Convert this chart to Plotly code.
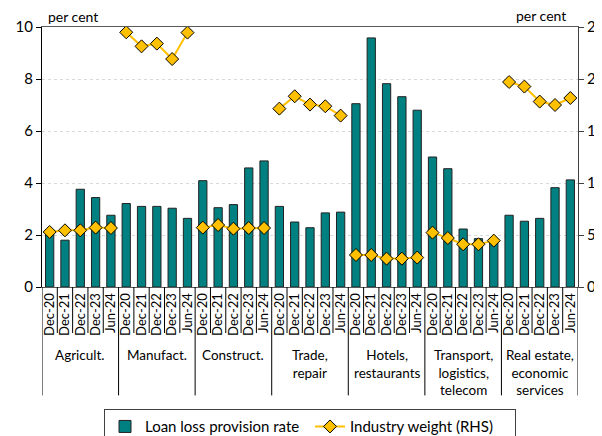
import plotly.graph_objects as go

# ---- data ----
sector_keys = ["Agricult.", "Manufact.", "Construct.", "Trade", "Hotels", "Transport", "Real estate"]
sector_labels = ["Agricult.", "Manufact.", "Construct.", "Trade,<br>repair",
                 "Hotels,<br>restaurants", "Transport,<br>logistics,<br>telecom",
                 "Real estate,<br>economic<br>services"]
dates = ["Dec-20", "Dec-21", "Dec-22", "Dec-23", "Jun-24"]

provision_rate = [
    2.12, 1.80, 3.76, 3.44, 2.76,   # Agricult.
    3.21, 3.10, 3.10, 3.03, 2.64,   # Manufact.
    4.09, 3.05, 3.17, 4.58, 4.85,   # Construct.
    3.10, 2.50, 2.28, 2.85, 2.88,   # Trade
    7.05, 9.58, 7.82, 7.32, 6.80,   # Hotels
    5.00, 4.55, 2.23, 1.86, 1.77,   # Transport
    2.76, 2.53, 2.64, 3.82, 4.12,   # Real estate
]
industry_weight = [
    5.29, 5.45, 5.45, 5.71, 5.67,
    24.49, 23.14, 23.40, 21.92, 24.46,
    5.71, 5.96, 5.61, 5.67, 5.67,
    17.15, 18.34, 17.54, 17.38, 16.48,
    3.08, 3.08, 2.73, 2.73, 2.83,
    5.23, 4.71, 4.11, 4.11, 4.46,
    19.71, 19.27, 17.83, 17.50, 18.17,
]

left_ticks = [0, 2, 4, 6, 8, 10]
right_ticks = [0, 5, 10, 15, 20, 25]

# ---- build ----
FONT = "Lato, 'Liberation Sans', sans-serif"
TEAL = "#008080"
GOLD = "#FFC000"

n_per = len(dates)
x_ids = [f"{s}|{d}" for s in sector_keys for d in dates]
x_text = [d for s in sector_keys for d in dates]

fig = go.Figure()
fig.add_trace(go.Bar(
    x=x_ids, y=provision_rate, name="Loan loss provision rate",
    marker=dict(color=TEAL, line=dict(color="#222222", width=1)),
    width=0.54,
))
for k, s in enumerate(sector_keys):
    fig.add_trace(go.Scatter(
        x=x_ids[k * n_per:(k + 1) * n_per],
        y=industry_weight[k * n_per:(k + 1) * n_per],
        yaxis="y2", mode="lines+markers", name="Industry weight (RHS)",
        legendgroup="w", showlegend=(k == 0),
        line=dict(color=GOLD, width=2),
        marker=dict(symbol="diamond", size=10, color=GOLD,
                    line=dict(color="#000000", width=1)),
    ))

shapes = []
n = len(x_ids)
for i in range(n + 1):
    is_group = (i % n_per == 0)
    shapes.append(dict(
        type="line", xref="x", yref="paper",
        x0=i - 0.5, x1=i - 0.5, y0=0, y1=(-0.417 if is_group else -0.177),
        line=dict(color="#000000", width=1),
    ))

annotations = []
for k, lab in enumerate(sector_labels):
    annotations.append(dict(
        x=k * n_per + (n_per - 1) / 2, xref="x", y=-0.222, yref="paper",
        text=lab, showarrow=False, yanchor="top", xanchor="center",
        font=dict(family=FONT, size=13.5, color="#000000"), align="center",
    ))
annotations.append(dict(x=0.008, xref="paper", y=1.0, yref="paper", text="per cent",
                        showarrow=False, xanchor="left", yanchor="bottom",
                        font=dict(family=FONT, size=14, color="#000000")))
annotations.append(dict(x=0.982, xref="paper", y=1.003, yref="paper", text="per cent",
                        showarrow=False, xanchor="right", yanchor="bottom",
                        font=dict(family=FONT, size=14, color="#000000")))

# page body adds an 8px offset; the figure fills the rest of the 602x436 window
fig.update_layout(
    width=594, height=428,
    margin=dict(l=34, r=24, t=19, b=149, autoexpand=False),
    paper_bgcolor="white", plot_bgcolor="white",
    font=dict(family=FONT, size=13, color="#000000"),
    bargap=0.46,
    xaxis=dict(
        type="category", categoryorder="array", categoryarray=x_ids,
        tickmode="array", tickvals=x_ids, ticktext=x_text,
        tickangle=-90, tickfont=dict(size=13),
        showline=True, linecolor="#595959", linewidth=1, mirror=True,
        ticks="", showgrid=False, range=[-0.5, n - 0.5], automargin=False,
    ),
    yaxis=dict(
        range=[0, 10], tickvals=left_ticks, showline=True, linecolor="#000000",
        linewidth=1, ticks="outside", ticklen=5, tickcolor="#000000",
        showgrid=True, gridcolor="#D9D9D9", griddash="dot", zeroline=False,
        tickfont=dict(size=15), automargin=False,
    ),
    yaxis2=dict(
        range=[0, 25], tickvals=right_ticks, overlaying="y", side="right",
        showline=True, linecolor="#404040", linewidth=1, ticks="outside",
        ticklen=5, tickcolor="#404040", showgrid=False, zeroline=False,
        tickfont=dict(size=15), automargin=False,
    ),
    legend=dict(
        orientation="h", x=0.5, xanchor="center", y=-0.47, yanchor="top",
        bordercolor="#404040", borderwidth=1, font=dict(size=15),
        traceorder="normal", entrywidth=160,
    ),
    shapes=shapes, annotations=annotations,
)

fig.write_html("out.html")
